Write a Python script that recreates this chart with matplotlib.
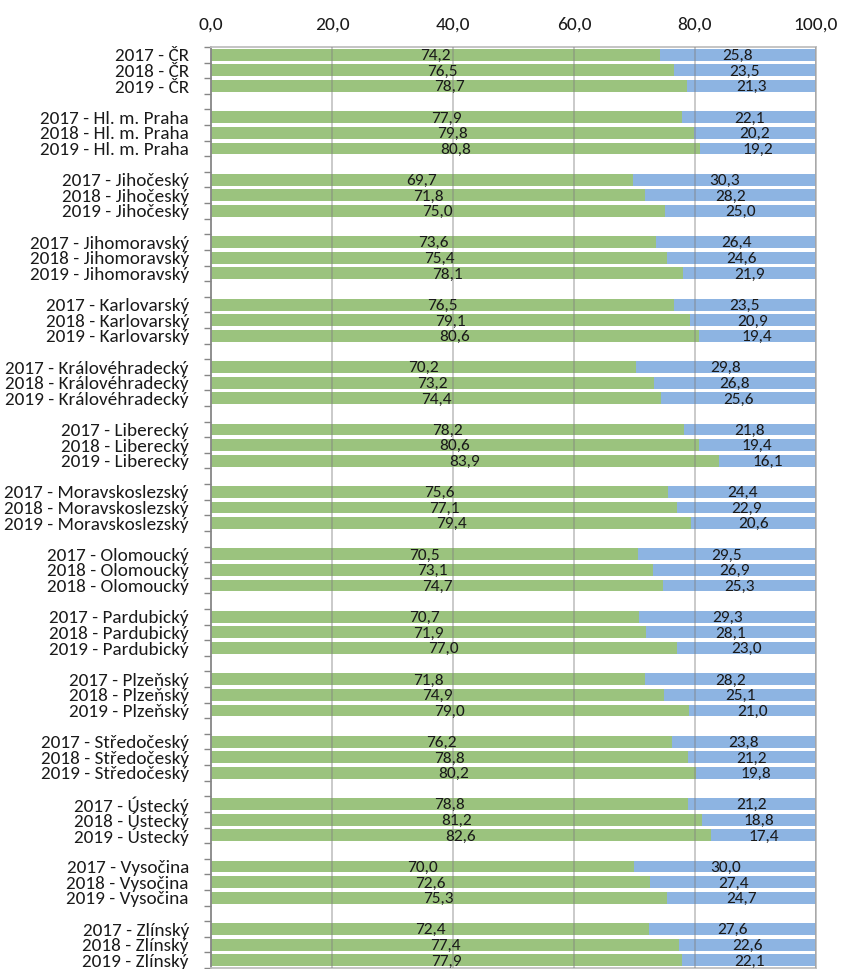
import matplotlib
matplotlib.use("Agg")
import matplotlib.pyplot as plt
import numpy as np

plt.rcParams['font.family'] = ['Carlito', 'Lato', 'DejaVu Sans']

regions = ["ČR", "Hl. m. Praha", "Jihočeský", "Jihomoravský", "Karlovarský",
           "Královéhradecký", "Liberecký", "Moravskoslezský", "Olomoucký",
           "Pardubický", "Plzeňský", "Středočeský", "Ústecký", "Vysočina", "Zlínský"]
years = [["2017", "2018", "2019"]] * 8 + [["2017", "2018", "2018"]] + [["2017", "2018", "2019"]] * 6

green = [74.2, 76.5, 78.7, 77.9, 79.8, 80.8, 69.7, 71.8, 75.0, 73.6, 75.4, 78.1,
         76.5, 79.1, 80.6, 70.2, 73.2, 74.4, 78.2, 80.6, 83.9, 75.6, 77.1, 79.4,
         70.5, 73.1, 74.7, 70.7, 71.9, 77.0, 71.8, 74.9, 79.0, 76.2, 78.8, 80.2,
         78.8, 81.2, 82.6, 70.0, 72.6, 75.3, 72.4, 77.4, 77.9]
blue = [25.8, 23.5, 21.3, 22.1, 20.2, 19.2, 30.3, 28.2, 25.0, 26.4, 24.6, 21.9,
        23.5, 20.9, 19.4, 29.8, 26.8, 25.6, 21.8, 19.4, 16.1, 24.4, 22.9, 20.6,
        29.5, 26.9, 25.3, 29.3, 28.1, 23.0, 28.2, 25.1, 21.0, 23.8, 21.2, 19.8,
        21.2, 18.8, 17.4, 30.0, 27.4, 24.7, 27.6, 22.6, 22.1]
xticks = [0, 20, 40, 60, 80, 100]

labels = []
pos = []
for g, (reg, ys) in enumerate(zip(regions, years)):
    for i, y in enumerate(ys):
        labels.append(f"{y} - {reg}")
        pos.append(g * 4 + i)
pos = np.array(pos)
nrows = len(regions) * 4 - 1

GREEN = "#9BC37E"
BLUE = "#8DB4E2"

fig = plt.figure(figsize=(8.42, 9.69), dpi=100)
ax = fig.add_axes([0.2506, 0.001, 0.7185, 0.9505])

ax.barh(pos, green, height=0.76, color=GREEN, zorder=2)
ax.barh(pos, blue, left=green, height=0.76, color=BLUE, zorder=2)

fmt = lambda v: f"{v:.1f}".replace(".", ",")
for p, g, b in zip(pos, green, blue):
    ax.text(g / 2, p + 0.08, fmt(g), ha="center", va="center", fontsize=12.5, color="#1a1a1a", zorder=4)
    ax.text(g + b / 2, p + 0.08, fmt(b), ha="center", va="center", fontsize=12.5, color="#1a1a1a", zorder=4)

ax.set_xlim(0, 100)
ax.set_ylim(nrows - 0.5, -0.5)
ax.xaxis.tick_top()
ax.set_xticks(xticks)
ax.set_xticklabels([fmt(v) for v in xticks], fontsize=14, color="#1a1a1a")
ax.tick_params(axis="x", length=0, pad=10)
for v in xticks[1:]:
    ax.axvline(v, color="#808080", alpha=0.45, lw=1.3, zorder=3)

ax.set_yticks(pos)
ax.set_yticklabels(labels, fontsize=13.8, color="#1a1a1a")
ax.tick_params(axis="y", which="major", length=0, pad=16)
ax.set_yticks(np.arange(-0.5, nrows, 1.0), minor=True)
ax.tick_params(axis="y", which="minor", length=5, color="#868686", width=1)

for s in ["top", "right", "bottom"]:
    ax.spines[s].set_color("#BFBFBF")
    ax.spines[s].set_linewidth(1.3)
ax.spines["left"].set_color("#868686")
ax.spines["left"].set_linewidth(1.3)

fig.savefig("out.png", dpi=100)
